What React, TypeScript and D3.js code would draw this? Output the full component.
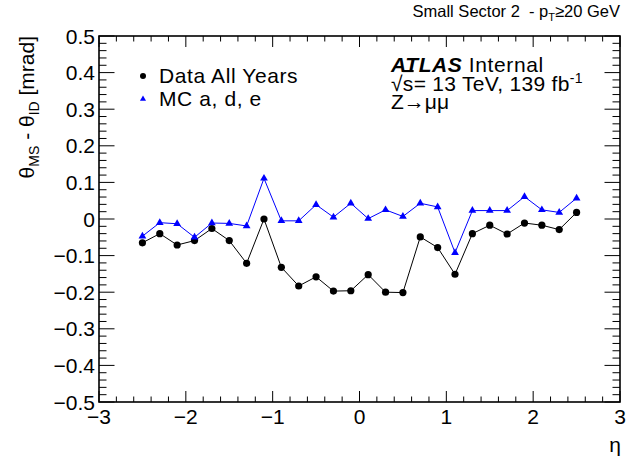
import React from "react";
import * as d3 from "d3";

const etaBins = [-2.5, -2.3, -2.1, -1.9, -1.7, -1.5, -1.3, -1.1, -0.9, -0.7, -0.5, -0.3, -0.1, 0.1, 0.3, 0.5, 0.7, 0.9, 1.1, 1.3, 1.5, 1.7, 1.9, 2.1, 2.3, 2.5];
const dataValues = [-0.065, -0.040, -0.071, -0.059, -0.026, -0.059, -0.121, 0.000, -0.132, -0.183, -0.158, -0.197, -0.196, -0.152, -0.200, -0.201, -0.049, -0.078, -0.151, -0.040, -0.017, -0.041, -0.011, -0.017, -0.029, 0.018];
const mcValues = [-0.047, -0.010, -0.013, -0.050, -0.011, -0.012, -0.019, 0.111, -0.005, -0.005, 0.039, 0.005, 0.043, 0.001, 0.025, 0.007, 0.043, 0.033, -0.092, 0.023, 0.023, 0.023, 0.061, 0.025, 0.018, 0.057];
const xMajorTicks = [-3, -2, -1, 0, 1, 2, 3];
const yMajorTicks = [-0.5, -0.4, -0.3, -0.2, -0.1, 0, 0.1, 0.2, 0.3, 0.4, 0.5];
const xTickLabels = ["\u22123", "\u22122", "\u22121", "0", "1", "2", "3"];
const yTickLabels = ["\u22120.5", "\u22120.4", "\u22120.3", "\u22120.2", "\u22120.1", "0", "0.1", "0.2", "0.3", "0.4", "0.5"];

const W = 640, H = 471;
const L = 99, R = 620, T = 36, B = 402;
const FONT = "'Liberation Sans', Arial, Helvetica, sans-serif";

export default function App() {
  const x = d3.scaleLinear().domain([-3, 3]).range([L, R]);
  const y = d3.scaleLinear().domain([-0.5, 0.5]).range([B, T]);

  const xMinor: number[] = [];
  for (let i = 0; i < xMajorTicks.length - 1; i++) {
    for (let k = 1; k < 5; k++) xMinor.push(xMajorTicks[i] + (k * (xMajorTicks[i + 1] - xMajorTicks[i])) / 5);
  }
  const yMinor: number[] = [];
  for (let i = 0; i < yMajorTicks.length - 1; i++) {
    for (let k = 1; k < 5; k++) yMinor.push(yMajorTicks[i] + (k * (yMajorTicks[i + 1] - yMajorTicks[i])) / 5);
  }

  const line = d3.line<number>().x((_, i) => x(etaBins[i])).y((v) => y(v));
  const tri = d3.symbol().type(d3.symbolTriangle).size(26)() as string;
  const triSmall = d3.symbol().type(d3.symbolTriangle).size(16)() as string;

  const xMajLen = 11, xMinLen = 5.5, yMajLen = 15.5, yMinLen = 7.5;
  const tickStroke = { stroke: "#000", strokeWidth: 1 };

  return (
    <div style={{ position: "fixed", left: 0, top: 0, width: W, height: H, background: "#fff" }}>
      <svg width={W} height={H} style={{ display: "block" }} fontFamily={FONT}>
        <rect x={0} y={0} width={W} height={H} fill="#fff" />
        {/* ticks bottom/top */}
        {xMajorTicks.map((t) => (
          <g key={"xm" + t}>
            <line x1={x(t)} x2={x(t)} y1={B} y2={B - xMajLen} {...tickStroke} />
            <line x1={x(t)} x2={x(t)} y1={T} y2={T + xMajLen} {...tickStroke} />
          </g>
        ))}
        {xMinor.map((t, i) => (
          <g key={"xn" + i}>
            <line x1={x(t)} x2={x(t)} y1={B} y2={B - xMinLen} {...tickStroke} />
            <line x1={x(t)} x2={x(t)} y1={T} y2={T + xMinLen} {...tickStroke} />
          </g>
        ))}
        {yMajorTicks.map((t) => (
          <g key={"ym" + t}>
            <line x1={L} x2={L + yMajLen} y1={y(t)} y2={y(t)} {...tickStroke} />
            <line x1={R} x2={R - yMajLen} y1={y(t)} y2={y(t)} {...tickStroke} />
          </g>
        ))}
        {yMinor.map((t, i) => (
          <g key={"yn" + i}>
            <line x1={L} x2={L + yMinLen} y1={y(t)} y2={y(t)} {...tickStroke} />
            <line x1={R} x2={R - yMinLen} y1={y(t)} y2={y(t)} {...tickStroke} />
          </g>
        ))}
        {/* frame */}
        <rect x={L} y={T} width={R - L} height={B - T} fill="none" stroke="#000" strokeWidth={1.6} />

        {/* tick labels */}
        {xMajorTicks.map((t, i) => (
          <text key={"xl" + t} x={x(t)} y={424} textAnchor="middle" fontSize={21}>
            {xTickLabels[i]}
          </text>
        ))}
        {yMajorTicks.map((t, i) => (
          <text key={"yl" + t} x={95} y={y(t) + 7.5} textAnchor="end" fontSize={21}>
            {yTickLabels[i]}
          </text>
        ))}

        {/* axis titles */}
        <text x={621} y={452} textAnchor="end" fontSize={21}>η</text>
        <text transform={`translate(34,${T}) rotate(-90)`} textAnchor="end" fontSize={21}>
          θ<tspan fontSize={14} dy={5}>MS</tspan>
          <tspan dy={-5}> - θ</tspan>
          <tspan fontSize={14} dy={5}>ID</tspan>
          <tspan dy={-5}> [mrad]</tspan>
        </text>

        {/* top-right label */}
        <text x={620} y={17} textAnchor="end" fontSize={16.5} style={{ whiteSpace: "pre" }}>
          {"Small Sector 2  - p"}<tspan fontSize={11} dy={4}>T</tspan>
          <tspan dy={-4}>≥20 GeV</tspan>
        </text>

        {/* series */}
        <path d={line(dataValues) || ""} fill="none" stroke="#000" strokeWidth={1} />
        {dataValues.map((v, i) => (
          <circle key={"d" + i} cx={x(etaBins[i])} cy={y(v)} r={3.6} fill="#000" />
        ))}
        <path d={line(mcValues) || ""} fill="none" stroke="#0000ff" strokeWidth={1} />
        {mcValues.map((v, i) => (
          <path key={"m" + i} d={tri} transform={`translate(${x(etaBins[i])},${y(v)})`} fill="#0000ff" />
        ))}

        {/* legend */}
        <circle cx={143} cy={76} r={3} fill="#000" />
        <text x={159} y={83} fontSize={21} letterSpacing={0.6}>Data All Years</text>
        <path d={triSmall} transform="translate(143,99)" fill="#0000ff" />
        <text x={159} y={106} fontSize={21} letterSpacing={0.6}>MC a, d, e</text>

        {/* ATLAS label */}
        <text x={391} y={72} fontSize={21} letterSpacing={0.6}>
          <tspan fontWeight="bold" fontStyle="italic">ATLAS</tspan>
          <tspan> Internal</tspan>
        </text>
        <text x={391} y={91} fontSize={21} letterSpacing={0.3}>
          √<tspan style={{ textDecoration: "overline" }}>s</tspan>= 13 TeV, 139 fb
          <tspan fontSize={14} dy={-8}>-1</tspan>
        </text>
        <text x={391} y={109} fontSize={21}>Z→μμ</text>
      </svg>
    </div>
  );
}
